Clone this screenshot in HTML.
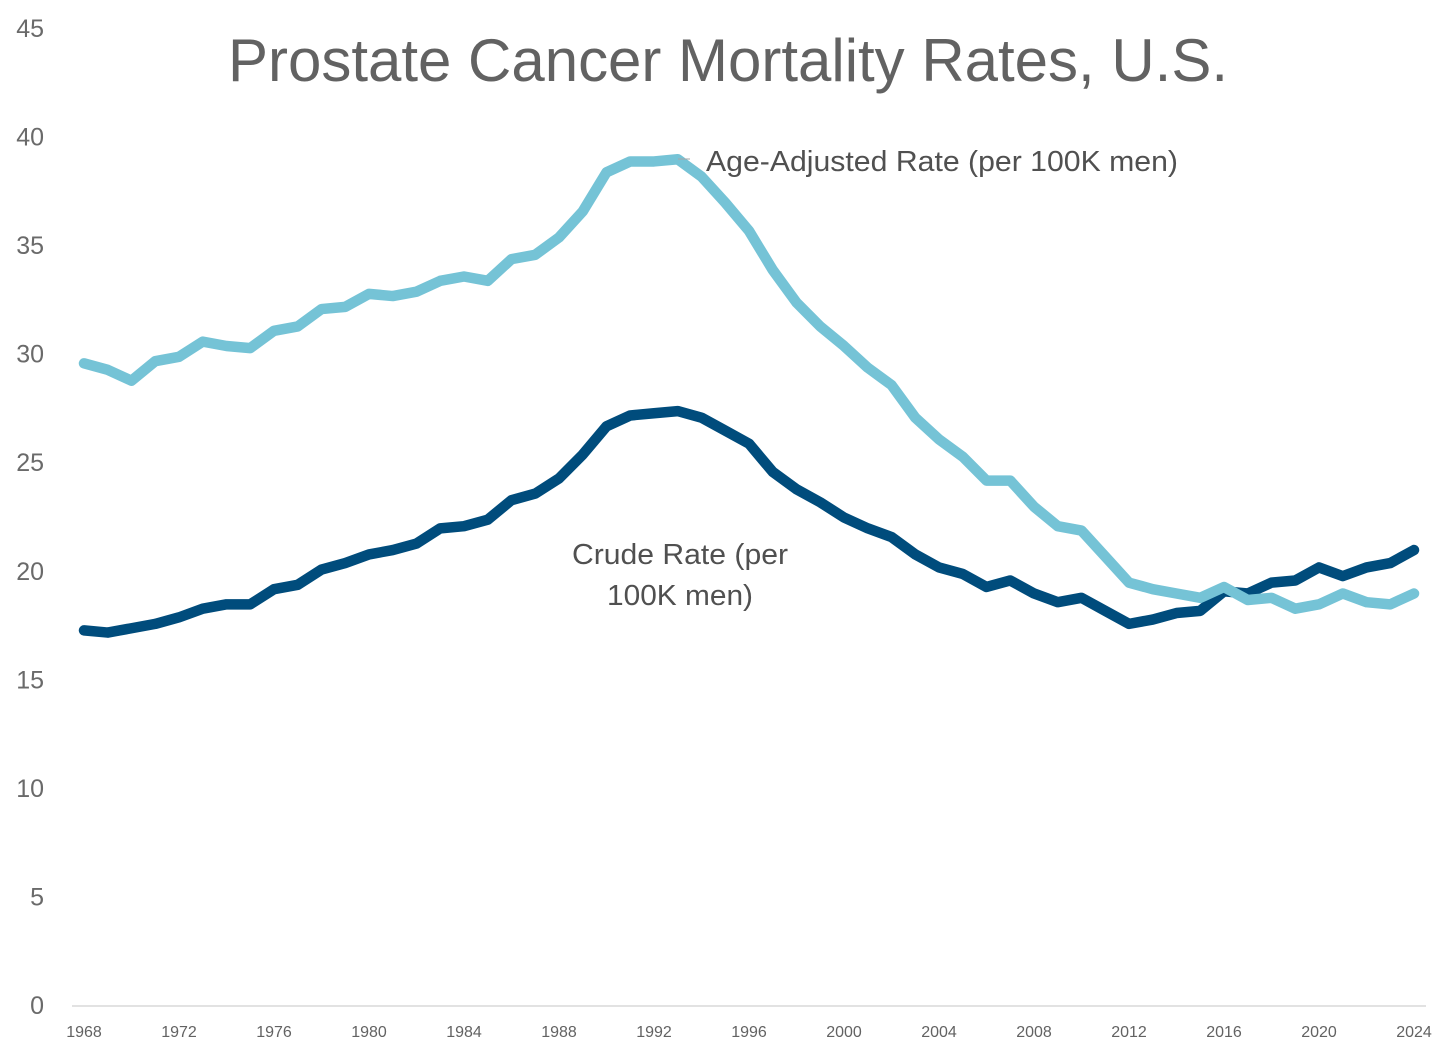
<!DOCTYPE html>
<html lang="en">
<head>
<meta charset="utf-8">
<title>Prostate Cancer Mortality Rates, U.S.</title>
<style>
html,body{margin:0;padding:0;background:#fff;}
svg{display:block;font-family:"Liberation Sans",sans-serif;}
</style>
</head>
<body>
<svg id="chart" width="1456" height="1056" viewBox="0 0 1456 1056" xmlns="http://www.w3.org/2000/svg">
  <rect x="0" y="0" width="1456" height="1056" fill="#ffffff"/>
  <text x="228" y="81" font-size="60" fill="#626262" textLength="1000" lengthAdjust="spacingAndGlyphs">Prostate Cancer Mortality Rates, U.S.</text>
  <line x1="72" y1="1006" x2="1426" y2="1006" stroke="#d9d9d9" stroke-width="1.5"/>
  <g id="y-ticks"></g>
  <g id="x-ticks"></g>
  <g id="series"></g>
  <line x1="678" y1="159" x2="690" y2="159" stroke="#a6a6a6" stroke-width="1"/>
  <text x="706" y="171" font-size="29" fill="#505050" textLength="472" lengthAdjust="spacingAndGlyphs">Age-Adjusted Rate (per 100K men)</text>
  <text x="572" y="564" font-size="29" fill="#505050" textLength="216" lengthAdjust="spacingAndGlyphs">Crude Rate (per</text>
  <text x="607" y="605" font-size="29" fill="#505050" textLength="146" lengthAdjust="spacingAndGlyphs">100K men)</text>
</svg>
<script>
const years = [1968,1969,1970,1971,1972,1973,1974,1975,1976,1977,1978,1979,1980,1981,1982,1983,1984,1985,1986,1987,1988,1989,1990,1991,1992,1993,1994,1995,1996,1997,1998,1999,2000,2001,2002,2003,2004,2005,2006,2007,2008,2009,2010,2011,2012,2013,2014,2015,2016,2017,2018,2019,2020,2021,2022,2023,2024];
const crudeRate = [17.3,17.2,17.4,17.6,17.9,18.3,18.5,18.5,19.2,19.4,20.1,20.4,20.8,21.0,21.3,22.0,22.1,22.4,23.3,23.6,24.3,25.4,26.7,27.2,27.3,27.4,27.1,26.5,25.9,24.6,23.8,23.2,22.5,22.0,21.6,20.8,20.2,19.9,19.3,19.6,19.0,18.6,18.8,18.2,17.6,17.8,18.1,18.2,19.1,19.0,19.5,19.6,20.2,19.8,20.2,20.4,21.0];
const ageAdjustedRate = [29.6,29.3,28.8,29.7,29.9,30.6,30.4,30.3,31.1,31.3,32.1,32.2,32.8,32.7,32.9,33.4,33.6,33.4,34.4,34.6,35.4,36.6,38.4,38.9,38.9,39.0,38.2,37.0,35.7,33.9,32.4,31.3,30.4,29.4,28.6,27.1,26.1,25.3,24.2,24.2,23.0,22.1,21.9,20.7,19.5,19.2,19.0,18.8,19.3,18.7,18.8,18.3,18.5,19.0,18.6,18.5,19.0];
const yTickLabels = [0,5,10,15,20,25,30,35,40,45];
const xTickLabels = [1968,1972,1976,1980,1984,1988,1992,1996,2000,2004,2008,2012,2016,2020,2024];

const NS = 'http://www.w3.org/2000/svg';
const xScale = function (year) { return 84 + (year - 1968) * (1414 - 84) / (2024 - 1968); };
const yScale = function (value) { return 1006 - value * (1006 - 29) / 45; };

const yGroup = document.getElementById('y-ticks');
yTickLabels.forEach(function (tick) {
  const label = document.createElementNS(NS, 'text');
  
  
  label.setAttribute('x', 44);
  label.setAttribute('y', yScale(tick) + 8);
  label.setAttribute('text-anchor', 'end');
  label.setAttribute('font-size', '25');
  label.setAttribute('fill', '#6a6a6a');
  label.textContent = tick;
  yGroup.appendChild(label);
});

const xGroup = document.getElementById('x-ticks');
xTickLabels.forEach(function (tick) {
  const label = document.createElementNS(NS, 'text');
  
  
  label.setAttribute('x', xScale(tick));
  label.setAttribute('y', 1037);
  label.setAttribute('text-anchor', 'middle');
  label.setAttribute('font-size', '16');
  label.setAttribute('fill', '#626262');
  label.textContent = tick;
  xGroup.appendChild(label);
});

function linePoints(values) {
  return values.map(function (v, i) {
    return xScale(years[i]).toFixed(2) + ',' + yScale(v).toFixed(2);
  }).join(' ');
}

const seriesGroup = document.getElementById('series');

const crudeLine = document.createElementNS(NS, 'polyline');


crudeLine.setAttribute('points', linePoints(crudeRate));
crudeLine.setAttribute('fill', 'none');
crudeLine.setAttribute('stroke', '#004c7c');
crudeLine.setAttribute('stroke-width', '10.5');
crudeLine.setAttribute('stroke-linecap', 'round');
crudeLine.setAttribute('stroke-linejoin', 'round');
seriesGroup.appendChild(crudeLine);

const ageLine = document.createElementNS(NS, 'polyline');


ageLine.setAttribute('points', linePoints(ageAdjustedRate));
ageLine.setAttribute('fill', 'none');
ageLine.setAttribute('stroke', '#75c3d6');
ageLine.setAttribute('stroke-width', '10.5');
ageLine.setAttribute('stroke-linecap', 'round');
ageLine.setAttribute('stroke-linejoin', 'round');
seriesGroup.appendChild(ageLine);
</script>
</body>
</html>
